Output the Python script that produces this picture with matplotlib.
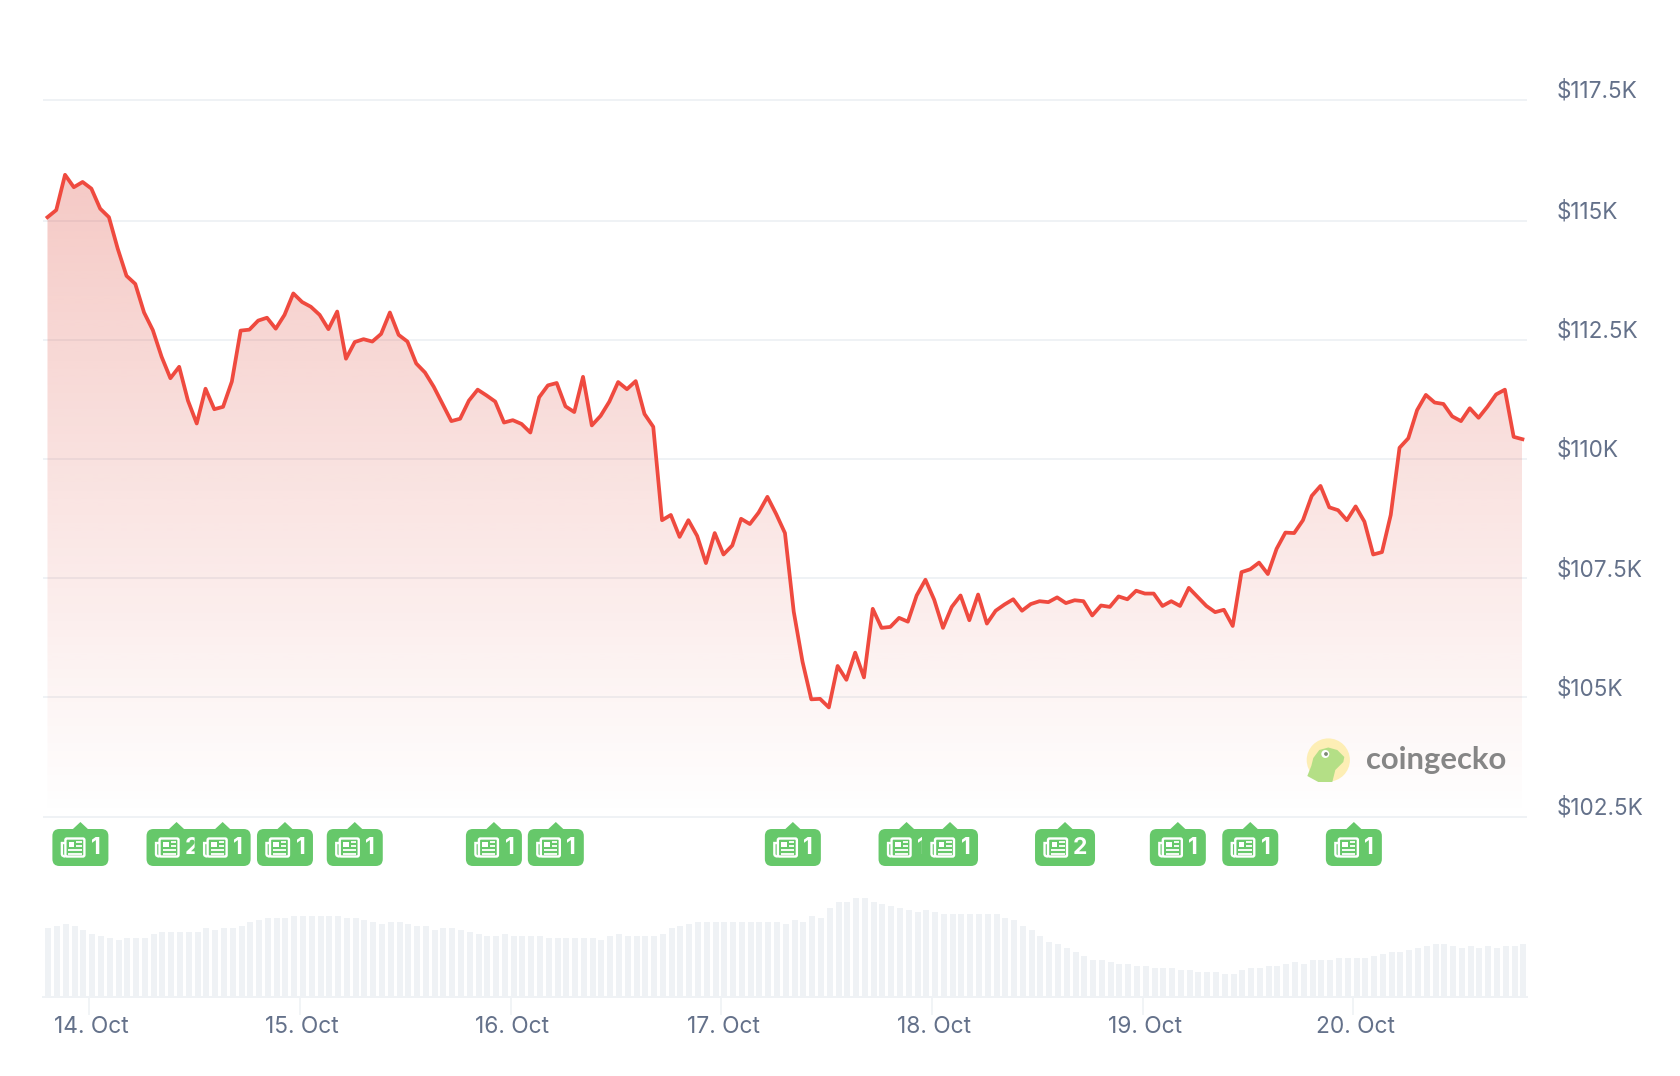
import numpy as np
import matplotlib
matplotlib.use("Agg")
import matplotlib.pyplot as plt
from matplotlib.patches import FancyBboxPatch, Polygon, Circle, Rectangle, PathPatch
from matplotlib.path import Path
from matplotlib.transforms import Affine2D

# ---- data -------------------------------------------------------------
price_k = [
    115.08,115.23,115.97,115.71,115.82,115.68,115.26,115.08,114.42,113.85,
    113.68,113.08,112.71,112.15,111.70,111.94,111.23,110.75,111.48,111.05,
    111.10,111.63,112.70,112.72,112.91,112.97,112.74,113.03,113.48,113.30,
    113.20,113.03,112.73,113.10,112.11,112.46,112.52,112.47,112.63,113.08,
    112.61,112.47,112.01,111.82,111.52,111.16,110.80,110.85,111.23,111.46,
    111.34,111.21,110.77,110.82,110.74,110.56,111.30,111.55,111.60,111.11,
    110.99,111.73,110.71,110.91,111.21,111.62,111.47,111.64,110.95,110.68,
    108.72,108.83,108.37,108.72,108.39,107.82,108.45,108.00,108.19,108.75,
    108.64,108.88,109.21,108.85,108.45,106.80,105.75,104.96,104.97,104.79,
    105.66,105.37,105.94,105.42,106.86,106.46,106.48,106.67,106.59,107.14,
    107.47,107.05,106.46,106.90,107.14,106.62,107.16,106.55,106.82,106.95,
    107.06,106.82,106.96,107.02,107.00,107.10,106.98,107.04,107.02,106.72,
    106.93,106.90,107.12,107.06,107.24,107.18,107.18,106.92,107.02,106.92,
    107.30,107.11,106.92,106.79,106.84,106.50,107.63,107.69,107.83,107.59,
    108.12,108.46,108.45,108.72,109.23,109.44,108.99,108.93,108.72,109.01,
    108.69,108.00,108.05,108.83,110.24,110.44,111.03,111.35,111.19,111.16,
    110.90,110.80,111.07,110.87,111.10,111.36,111.46,110.47,110.42,
]
volume = [
    69,71,73,71,67,63,61,59,57,59,59,59,63,65,65,65,65,65,69,67,
    69,69,71,75,77,79,79,79,81,81,81,81,81,81,79,79,77,75,73,75,
    75,73,71,71,67,69,69,67,65,63,61,61,63,61,61,61,61,59,59,59,
    59,59,59,57,61,63,61,61,61,61,63,69,71,73,75,75,75,75,75,75,
    75,75,75,75,73,77,75,81,79,89,95,95,99,99,95,93,91,89,87,85,
    87,85,83,83,83,83,83,83,83,79,77,71,67,61,55,53,49,45,41,37,
    37,35,33,33,31,31,29,29,29,27,27,25,25,25,23,23,27,29,29,31,
    31,33,35,33,37,37,37,39,39,39,39,41,43,45,45,47,49,51,53,53,
    51,49,51,49,51,49,51,51,53,
]
price_ticks = [102.5, 105, 107.5, 110, 112.5, 115, 117.55]
price_labels = ["$102.5K", "$105K", "$107.5K", "$110K", "$112.5K", "$115K", "$117.5K"]
day_ticks = [4.75, 28.75, 52.75, 76.75, 100.75, 124.75, 148.75]
day_labels = ["14. Oct", "15. Oct", "16. Oct", "17. Oct", "18. Oct", "19. Oct", "20. Oct"]
news_hours = [3.75, 14.7, 19.95, 27.05, 35.0, 50.85, 57.9, 84.9, 97.85, 102.8, 115.9, 128.75, 137.0, 148.8]
news_counts = [1, 2, 1, 1, 1, 1, 1, 1, 1, 1, 2, 1, 1, 1]

# ---- styles -----------------------------------------------------------
W, H = 1680, 1076
plt.rcParams["font.family"] = ["Inter", "DejaVu Sans"]
GRID = "#eff2f5"
TXT = "#64718a"
RED = "#ef4a3f"
FILL = "#df5144"
GREEN = "#66c86a"
hours = np.arange(len(price_k))
xlim = (-0.51, 168.52)

fig = plt.figure(figsize=(W / 100, H / 100), dpi=100, facecolor="white")


def axes_px(left, top, right, bottom):
    return fig.add_axes([left / W, 1 - bottom / H, (right - left) / W, (bottom - top) / H])


# ---- price panel ------------------------------------------------------
ax = axes_px(43, 40, 1527, 830)
ax.set_facecolor("none")
ax.set_axisbelow(True)
ax.grid(axis="y", color=GRID, lw=1.4)
rgba = np.zeros((256, 1, 4))
rgba[..., :3] = matplotlib.colors.to_rgb(FILL)
rgba[:, 0, 3] = np.linspace(0.31, 0.0, 256)
im = ax.imshow(rgba, extent=(0, 168, 102.5, 116.03), aspect="auto", origin="upper",
               interpolation="bilinear", zorder=1.5)
area = Polygon(np.column_stack([np.r_[0, hours, 168], np.r_[102.5, price_k, 102.5]]),
               closed=True, transform=ax.transData, fc="none", ec="none")
ax.add_patch(area)
im.set_clip_path(area)
ax.plot(hours, price_k, color=RED, lw=2.7, solid_joinstyle="round", zorder=3)
ax.set_xlim(xlim)
ax.set_ylim(102.217, 118.80)
ax.set_xticks([])
ax.yaxis.tick_right()
ax.set_yticks(price_ticks, price_labels)
ax.tick_params(axis="y", length=0, pad=21, labelsize=16.2, labelcolor=TXT)
for lbl in ax.get_yticklabels():
    lbl.set_transform(lbl.get_transform() + Affine2D().translate(0, 11))
for s in ax.spines.values():
    s.set_visible(False)

# ---- volume panel -----------------------------------------------------
axv = axes_px(43, 880, 1527, 996.7)
axv.set_facecolor("none")
axv.bar(hours + 0.1, volume, width=0.683, color=GRID, lw=0)
axv.set_xlim(xlim)
axv.set_ylim(0, 116.7)
axv.set_yticks([])
axv.set_xticks(day_ticks, day_labels)
axv.tick_params(axis="x", length=13, width=1.2, color=GRID, pad=1, labelsize=16.4, labelcolor=TXT)
for lbl in axv.get_xticklabels():
    lbl.set_transform(lbl.get_transform() + Affine2D().translate(1.8, 0))
for k, s in axv.spines.items():
    s.set_visible(k == "bottom")
axv.spines["bottom"].set_color(GRID)
axv.spines["bottom"].set_linewidth(1.4)


# ---- overlay drawn in pixel offsets -----------------------------------
def px_tf(x, y):
    """local pixels (y down) -> display"""
    return Affine2D().scale(1, -1).translate(x, H - y)


def add(p, z):
    p.set_zorder(z)
    p.set_clip_on(False)
    fig.add_artist(p)
    return p


BH = 37
for n, (h, c) in enumerate(zip(news_hours, news_counts)):
    BW = 60 if c > 1 else 56
    xc = ax.transData.transform((h, 103))[0]
    left = xc - BW / 2
    top = 829
    z = 10 + n
    t = px_tf(left, top)
    add(FancyBboxPatch((0, 0), BW, BH, boxstyle="round,pad=0,rounding_size=7", fc=GREEN, ec="none", transform=t), z)
    add(Polygon([(BW / 2 - 8, 0.5), (BW / 2, -7), (BW / 2 + 8, 0.5)], fc=GREEN, ec="none", transform=t), z)
    # newspaper icon
    white = dict(fc="none", ec="white", lw=1.7, transform=t)
    add(FancyBboxPatch((13, 9.5), 19, 18, boxstyle="round,pad=0,rounding_size=1.5", **white), z)
    fold = Path([(13, 14), (9.5, 14), (9.5, 25), (9.5, 27.5), (13, 27.5)],
                [Path.MOVETO, Path.LINETO, Path.LINETO, Path.CURVE3, Path.CURVE3])
    add(PathPatch(fold, **white), z)
    add(Rectangle((16.5, 12.5), 5.5, 5, fc="white", ec="none", transform=t), z)
    for (x0, x1, y) in [(24, 29.5, 13), (24, 29.5, 17), (16, 29.5, 21), (16, 29.5, 24.5)]:
        add(PathPatch(Path([(x0, y), (x1, y)]), fc="none", ec="white", lw=1.3, transform=t), z)
    tx, ty = t.transform((43.5 if c == 1 else 45, 18.5))
    txt = fig.text(tx / W, ty / H, str(c), color="white", fontsize=16.5, fontweight="bold",
                   ha="center", va="center", zorder=z)

# coingecko mark
cx, cy = 1328.3, 760.0
t = px_tf(cx, cy)
disc = add(Circle((0, 0), 21.6, fc="#fdeeb5", ec="none", transform=t), 5)
body = add(Polygon([(-21, 16), (-17, 6), (-15, -2), (-9, -10), (0, -12.5), (9, -10), (16, -3),
                    (15, 2), (7, 10), (4, 22), (-10, 22)],
                   fc="#b4df86", ec="none", transform=t), 6)
body.set_clip_path(disc)
add(Circle((-3, -6), 4, fc="white", ec="none", transform=t), 7)
add(Circle((-2.3, -6), 1.9, fc="#7d8a75", ec="none", transform=t), 8)
tx, ty = px_tf(cx, cy).transform((37.5, 0))
fig.text(tx / W, ty / H, "coingecko", color="#868686", fontsize=22.3, fontweight="bold",
         family=["Lato", "DejaVu Sans"], ha="left", va="center", zorder=6)

fig.savefig("out.png", dpi=100, facecolor="white")
